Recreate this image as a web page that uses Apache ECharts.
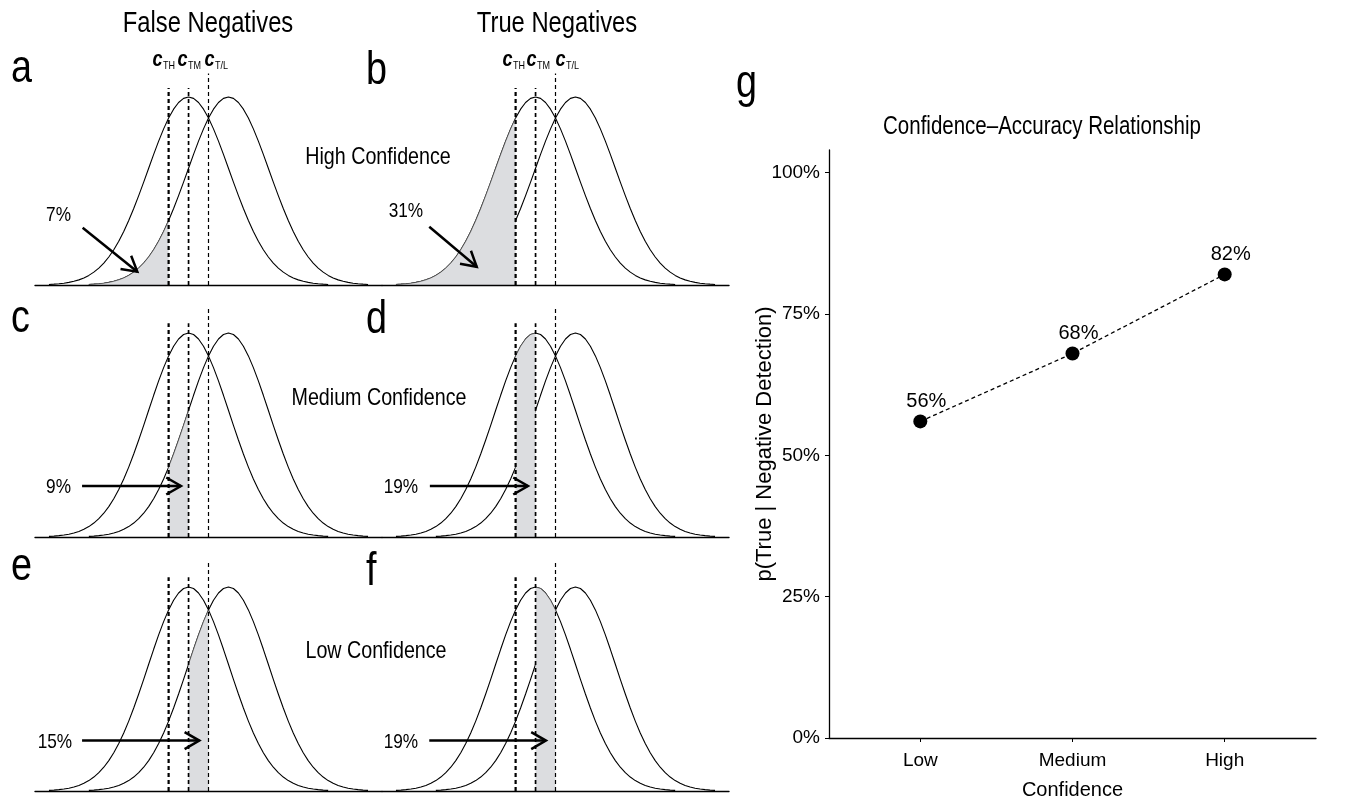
<!DOCTYPE html>
<html><head><meta charset="utf-8">
<script src="https://cdn.jsdelivr.net/npm/echarts@6/dist/echarts.min.js"></script>
<style>html,body{margin:0;padding:0;background:#fff}#c{width:1354px;height:803px}</style>
</head><body><div id="c"></div>
<script>
// ---------------- data ----------------
// bell shape: relative height (peak = 1) at offsets from the distribution mean (criterion units)
const bellOffsets = [-7,-6.75,-6.5,-6.25,-6,-5.75,-5.5,-5.25,-5,-4.75,-4.5,-4.25,-4,-3.75,-3.5,-3.25,-3,-2.75,-2.5,-2.25,-2,-1.75,-1.5,-1.25,-1,-0.75,-0.5,-0.25,0,0.25,0.5,0.75,1,1.25,1.5,1.75,2,2.25,2.5,2.75,3,3.25,3.5,3.75,4,4.25,4.5,4.75,5,5.25,5.5,5.75,6,6.25,6.5,6.75,7];
const bellHeights = [0.0029,0.0044,0.0066,0.0096,0.0138,0.0196,0.0273,0.0377,0.0511,0.0683,0.0899,0.1166,0.1490,0.1877,0.2328,0.2846,0.3427,0.4067,0.4754,0.5475,0.6213,0.6946,0.7651,0.8304,0.8878,0.9353,0.9707,0.9926,1,0.9926,0.9707,0.9353,0.8878,0.8304,0.7651,0.6946,0.6213,0.5475,0.4754,0.4067,0.3427,0.2846,0.2328,0.1877,0.1490,0.1166,0.0899,0.0683,0.0511,0.0377,0.0273,0.0196,0.0138,0.0096,0.0066,0.0044,0.0029];
const noiseMean = 0;
const signalMean = 2;
const criteria = [-1, 0, 1];            // c_TH, c_TM, c_T/L
const criterionNames = ['TH', 'TM', 'T/L'];
const criterionTops = [1.048, 1.048, 1.125];
const panelLetters = ['a', 'b', 'c', 'd', 'e', 'f'];
const shadedCurve = ['signal', 'noise', 'signal', 'noise', 'signal', 'noise'];
const shadeLow = [-99, -99, -1, -1, 0, 0];
const shadeHigh = [-1, -1, 0, 0, 1, 1];
const shadePercents = ['7%', '31%', '9%', '19%', '15%', '19%'];
const arrowFrom = [[-5.31, 0.305], [-5.33, 0.31], [-5.34, 0.25], [-5.3, 0.25], [-5.34, 0.247], [-5.33, 0.247]];
const arrowTo = [[-2.57, 0.071], [-2.95, 0.097], [-0.38, 0.25], [-0.38, 0.25], [0.54, 0.247], [0.52, 0.247]];
const percentAt = [[-6.52, 0.372], [-6.5, 0.394], [-6.52, 0.245], [-6.75, 0.245], [-6.7, 0.238], [-6.75, 0.24]];
const columnTitles = ['False Negatives', 'True Negatives'];
const rowTitles = ['High Confidence', 'Medium Confidence', 'Low Confidence'];
const confidenceLevels = ['Low', 'Medium', 'High'];
const accuracy = [0.56, 0.68, 0.82];
const yTicks = [0, 0.25, 0.5, 0.75, 1];

// ---------------- layout ----------------
const FONT = '"Liberation Sans", Arial, sans-serif';
const NARROW = 0.82; // horizontal squeeze to mimic the condensed typeface
const panelBoxes = [
  {left: 35,  top: 59.4,  width: 347, height: 225.6},
  {left: 382, top: 59.4,  width: 347, height: 225.6},
  {left: 35,  top: 292.2, width: 347, height: 244.8},
  {left: 382, top: 292.2, width: 347, height: 244.8},
  {left: 35,  top: 546.2, width: 347, height: 244.8},
  {left: 382, top: 546.2, width: 347, height: 244.8}
];
const labelOffsets = [[-6, -1, 6], [-3, 1, 10]];
const X_MIN = -7.7, X_MAX = 9.7, Y_MAX = 1.2;

const noisePts = bellOffsets.map((o, i) => [noiseMean + o, bellHeights[i]]);
const signalPts = bellOffsets.map((o, i) => [signalMean + o, bellHeights[i]]);

const grids = [], xAxes = [], yAxes = [], series = [];
panelBoxes.forEach((b, i) => {
  grids.push(Object.assign({outerBoundsMode: 'none', containLabel: false}, b));
  xAxes.push({type: 'value', gridIndex: i, min: X_MIN, max: X_MAX, z: 5,
    axisLine: {show: true, onZero: false, lineStyle: {color: '#000', width: 1.4}},
    axisTick: {show: false}, axisLabel: {show: false}, splitLine: {show: false}});
  yAxes.push({type: 'value', gridIndex: i, min: 0, max: Y_MAX, show: false, splitLine: {show: false}});
  const curveStyle = {color: '#000', width: 1.1};
  series.push({type: 'line', xAxisIndex: i, yAxisIndex: i, data: noisePts, symbol: 'none', lineStyle: curveStyle, z: 2, silent: true});
  series.push({type: 'line', xAxisIndex: i, yAxisIndex: i, data: signalPts, symbol: 'none', lineStyle: curveStyle, z: 2, silent: true});
  const src = shadedCurve[i] === 'noise' ? noisePts : signalPts;
  const shade = src.filter(p => p[0] >= shadeLow[i] && p[0] <= shadeHigh[i]);
  series.push({type: 'line', xAxisIndex: i, yAxisIndex: i, data: shade, symbol: 'none', z: 3, silent: true,
    lineStyle: {color: '#555', width: 0.7}, areaStyle: {color: '#dcdde0', opacity: 1}});
  // criterion lines
  const showLabels = i < 2;
  series.push({type: 'custom', xAxisIndex: i, yAxisIndex: i, z: 4, silent: true,
    data: criteria.map((c, k) => [c, criterionTops[k], k]),
    encode: {x: 0, y: 1},
    renderItem: (params, api) => {
      const x = api.value(0), top = api.value(1), k = api.value(2);
      const p0 = api.coord([x, 0]), p1 = api.coord([x, top]);
      const widths = [2.2, 1.7, 1.2];
      const children = [{type: 'line', shape: {x1: p0[0], y1: p0[1], x2: p1[0], y2: p1[1]},
        style: {stroke: '#000', lineWidth: widths[k], lineDash: [4, 3]}}];
      if (showLabels) {
        const cx = p0[0] + labelOffsets[i][k];
        const cy = api.coord([x, 1.197])[1];
        children.push({type: 'text', x: cx, y: cy, scaleX: NARROW, style: {text: 'c', fill: '#000',
          font: 'italic bold 22px ' + FONT, textAlign: 'right', align: 'right', textVerticalAlign: 'middle', verticalAlign: 'middle'}});
        children.push({type: 'text', x: cx + 0.5, y: cy + 6, scaleX: NARROW, style: {text: criterionNames[k], fill: '#000',
          font: '11px ' + FONT, textAlign: 'left', align: 'left', textVerticalAlign: 'middle', verticalAlign: 'middle'}});
      }
      return {type: 'group', children};
    }});
  // arrow + percentage
  series.push({type: 'custom', xAxisIndex: i, yAxisIndex: i, z: 6, silent: true,
    data: [[arrowFrom[i][0], arrowFrom[i][1], arrowTo[i][0], arrowTo[i][1], percentAt[i][0], percentAt[i][1], i]],
    encode: {x: 0, y: 1},
    renderItem: (params, api) => {
      const p1 = api.coord([api.value(0), api.value(1)]);
      const p2 = api.coord([api.value(2), api.value(3)]);
      const lp = api.coord([api.value(4), api.value(5)]);
      const ang = Math.atan2(p2[1] - p1[1], p2[0] - p1[0]);
      const L = 17, A = Math.PI / 6;
      const h1 = [p2[0] - L * Math.cos(ang - A), p2[1] - L * Math.sin(ang - A)];
      const h2 = [p2[0] - L * Math.cos(ang + A), p2[1] - L * Math.sin(ang + A)];
      return {type: 'group', children: [
        {type: 'line', shape: {x1: p1[0], y1: p1[1], x2: p2[0], y2: p2[1]}, style: {stroke: '#000', lineWidth: 2.5}},
        {type: 'polyline', shape: {points: [h1, p2, h2]}, style: {stroke: '#000', lineWidth: 2.5, fill: null}},
        {type: 'text', x: lp[0], y: lp[1], scaleX: NARROW, style: {text: shadePercents[api.value(6)], fill: '#000', font: '21px ' + FONT,
          textAlign: 'center', align: 'center', textVerticalAlign: 'middle', verticalAlign: 'middle'}}
      ]};
    }});
});

// panel g
grids.push({left: 829, top: 150, width: 487, height: 588, outerBoundsMode: 'none', containLabel: false});
xAxes.push({type: 'value', gridIndex: 6, min: 0.4, max: 3.6,
  axisLine: {show: true, onZero: false, lineStyle: {color: '#000', width: 1.3}},
  axisTick: {show: true, length: 4, customValues: [1, 2, 3], lineStyle: {color: '#000'}},
  axisLabel: {show: true, customValues: [1, 2, 3], formatter: v => confidenceLevels[Math.round(v) - 1] || '',
    color: '#000', fontSize: 19, fontFamily: FONT, margin: 13},
  splitLine: {show: false},
  name: 'Confidence', nameLocation: 'middle', nameGap: 42, nameMoveOverlap: false,
  nameTextStyle: {color: '#000', fontSize: 20, fontFamily: FONT}});
yAxes.push({type: 'value', gridIndex: 6, min: 0, max: 1.04,
  axisLine: {show: true, onZero: false, lineStyle: {color: '#000', width: 1.3}},
  axisTick: {show: true, length: 4, customValues: yTicks, lineStyle: {color: '#000'}},
  axisLabel: {show: true, customValues: yTicks, formatter: v => Math.round(v * 100) + '%',
    color: '#000', fontSize: 19, fontFamily: FONT, margin: 9},
  splitLine: {show: false},
  name: 'p(True | Negative Detection)', nameLocation: 'middle', nameGap: 53, nameRotate: 90, nameMoveOverlap: false,
  nameTextStyle: {color: '#000', fontSize: 22, fontFamily: FONT}});
series.push({type: 'line', xAxisIndex: 6, yAxisIndex: 6,
  data: accuracy.map((v, i) => [i + 1, v]),
  symbol: 'circle', symbolSize: 14, itemStyle: {color: '#000'},
  lineStyle: {color: '#000', width: 1.3, type: [4, 3]},
  label: {show: true, position: 'top', distance: 3, offset: [6, 0], color: '#000', fontSize: 20, fontFamily: FONT,
    formatter: p => Math.round(p.value[1] * 100) + '%'}});

// text annotations
const txt = (text, x, y, size, align) => ({type: 'text', x, y, silent: true, scaleX: NARROW,
  style: {text, fill: '#000', font: size + 'px ' + FONT, textAlign: align, align, textVerticalAlign: 'middle', verticalAlign: 'middle'}});
const graphics = [
  txt(columnTitles[0], 208, 24, 29, 'center'),
  txt(columnTitles[1], 557, 24, 29, 'center'),
  txt(rowTitles[0], 378, 157, 24, 'center'),
  txt(rowTitles[1], 379, 398, 24, 'center'),
  txt(rowTitles[2], 376, 651, 24, 'center'),
  txt('Confidence\u2013Accuracy Relationship', 1042, 127, 25, 'center'),
  txt('a', 11, 69, 46, 'left'),
  txt('b', 366, 71, 46, 'left'),
  txt('c', 11, 319, 46, 'left'),
  txt('d', 366, 320, 46, 'left'),
  txt('e', 11, 567, 46, 'left'),
  txt('f', 366, 572, 46, 'left'),
  txt('g', 736, 84, 46, 'left')
];

const chart = echarts.init(document.getElementById('c'), null, {renderer: 'canvas'});
chart.setOption({
  animation: false,
  backgroundColor: '#fff',
  textStyle: {fontFamily: FONT},
  grid: grids, xAxis: xAxes, yAxis: yAxes, series,
  graphic: {elements: graphics}
});
</script></body></html>
